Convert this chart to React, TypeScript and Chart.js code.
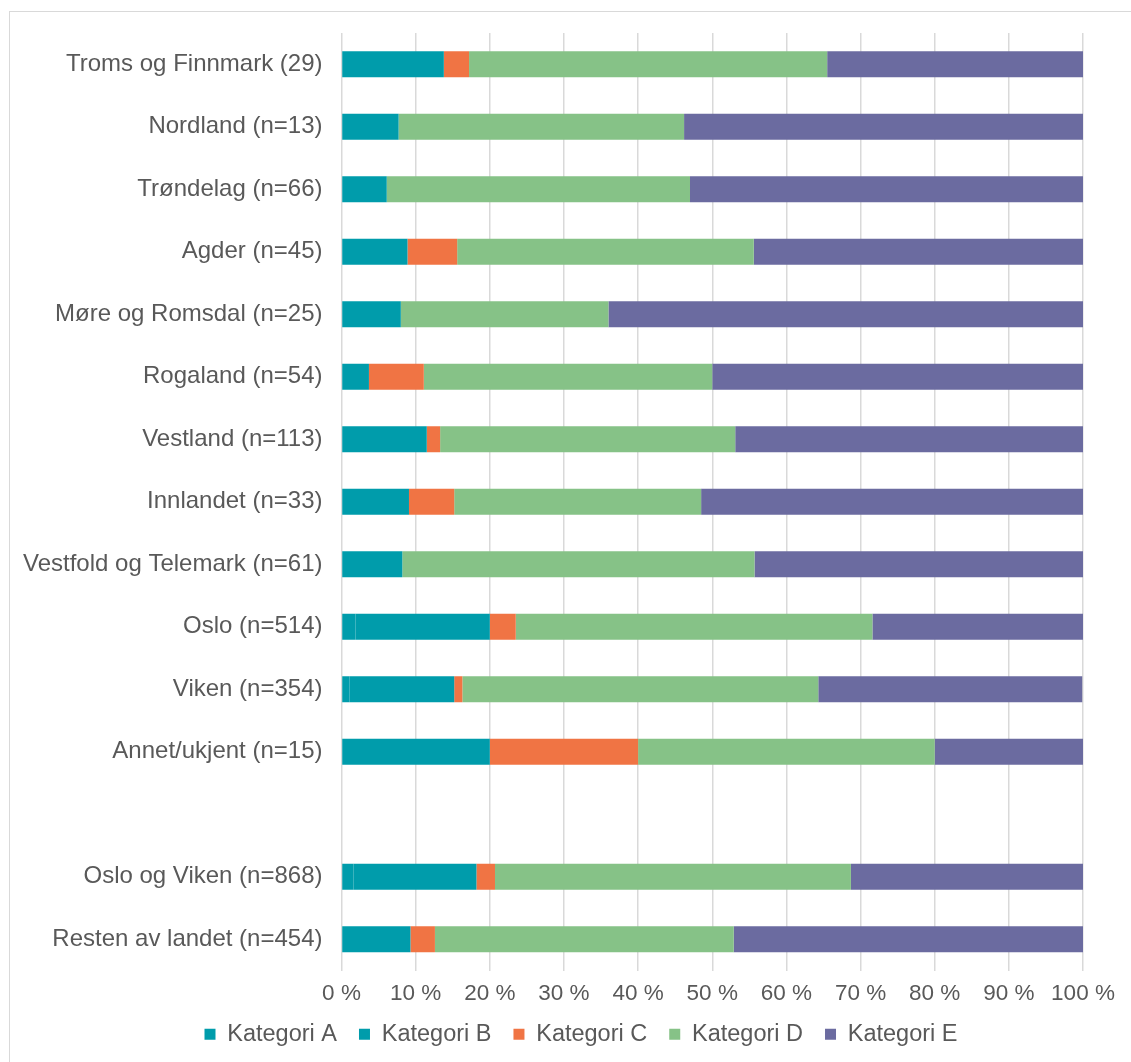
import React, { useEffect, useRef } from "react";
import { Chart, registerables } from "chart.js";

Chart.register(...registerables);

const categories = [
  "Troms og Finnmark (29)",
  "Nordland (n=13)",
  "Trøndelag (n=66)",
  "Agder (n=45)",
  "Møre og Romsdal (n=25)",
  "Rogaland (n=54)",
  "Vestland (n=113)",
  "Innlandet (n=33)",
  "Vestfold og Telemark (n=61)",
  "Oslo (n=514)",
  "Viken (n=354)",
  "Annet/ukjent (n=15)",
  "",
  "Oslo og Viken (n=868)",
  "Resten av landet (n=454)",
];

const seriesNames = ["Kategori A", "Kategori B", "Kategori C", "Kategori D", "Kategori E"];

const kategoriA = [0, 0, 0, 0, 0, 0, 0, 0, 0, 1.9, 1.1, 0, null, 1.6, 0];
const kategoriB = [13.8, 7.7, 6.1, 8.9, 8.0, 3.7, 11.5, 9.1, 8.2, 18.1, 14.1, 20.0, null, 16.6, 9.3];
const kategoriC = [3.4, 0, 0, 6.7, 0, 7.4, 1.8, 6.1, 0, 3.5, 1.1, 20.0, null, 2.5, 3.3];
const kategoriD = [48.3, 38.5, 40.9, 40.0, 28.0, 38.9, 39.8, 33.3, 47.5, 48.1, 48.0, 40.0, null, 48.0, 40.3];
const kategoriE = [34.5, 53.8, 53.0, 44.4, 64.0, 50.0, 46.9, 51.5, 44.3, 28.4, 35.6, 20.0, null, 31.3, 47.1];

const xTicks = [0, 10, 20, 30, 40, 50, 60, 70, 80, 90, 100];

const colors = ["#009CAB", "#009CAB", "#F07444", "#86C287", "#6B6BA0"];

const legendShift = {
  id: "legendShift",
  afterLayout(chart: any) {
    const lg = chart.legend;
    if (lg) {
      lg.left += 34.5;
      lg.right += 34.5;
    }
  },
};

export default function App() {
  const ref = useRef<HTMLCanvasElement | null>(null);

  useEffect(() => {
    if (!ref.current) return;
    const values = [kategoriA, kategoriB, kategoriC, kategoriD, kategoriE];
    const font = '"Liberation Sans", Arial, Helvetica, sans-serif';
    const chart = new Chart(ref.current, {
      type: "bar",
      data: {
        labels: categories,
        datasets: seriesNames.map((name, i) => ({
          label: name,
          data: values[i],
          backgroundColor: colors[i],
          borderWidth: 0,
          categoryPercentage: 1,
          barPercentage: 0.415,
        })),
      },
      plugins: [legendShift],
      options: {
        indexAxis: "y",
        responsive: false,
        animation: false,
        devicePixelRatio: 1,
        layout: { padding: { left: 0, right: 48, top: 21, bottom: 6 } },
        font: { family: font },
        scales: {
          x: {
            stacked: true,
            min: 0,
            max: 100,
            afterBuildTicks: (scale: any) => {
              scale.ticks = xTicks.map((v) => ({ value: v }));
            },
            afterFit: (scale: any) => {
              scale.height = 30;
            },
            grid: { color: "#D9D9D9", lineWidth: 1.5, drawTicks: false },
            border: { display: false },
            ticks: {
              padding: 10,
              color: "#595959",
              font: { family: font, size: 22.5 },
              callback: (v: any) => v + " %",
            },
          },
          y: {
            stacked: true,
            afterFit: (scale: any) => {
              scale.width = 331.5;
              scale.paddingTop = 0;
              scale.paddingBottom = 0;
            },
            grid: { display: false, drawTicks: false },
            border: { display: false },
            ticks: {
              padding: 19,
              color: "#595959",
              font: { family: font, size: 24 },
              autoSkip: false,
            },
          },
        },
        plugins: {
          tooltip: { enabled: false },
          legend: {
            position: "bottom",
            labels: {
              boxWidth: 11,
              boxHeight: 11,
              padding: 22,
              color: "#595959",
              font: { family: font, size: 23.5 },
            },
          },
        },
      },
    });
    return () => chart.destroy();
  }, []);

  return (
    <div style={{ position: "absolute", left: 0, top: 0, width: 1131, height: 1062, overflow: "hidden", background: "#fff" }}>
      <div
        style={{
          position: "absolute",
          left: 9,
          top: 11,
          width: 1122,
          height: 1051,
          boxSizing: "border-box",
          borderTop: "1px solid #D9D9D9",
          borderLeft: "1px solid #D9D9D9",
        }}
      />
      <canvas ref={ref} width={1121} height={1050} style={{ position: "absolute", left: 10, top: 12, width: 1121, height: 1050 }} />
    </div>
  );
}
